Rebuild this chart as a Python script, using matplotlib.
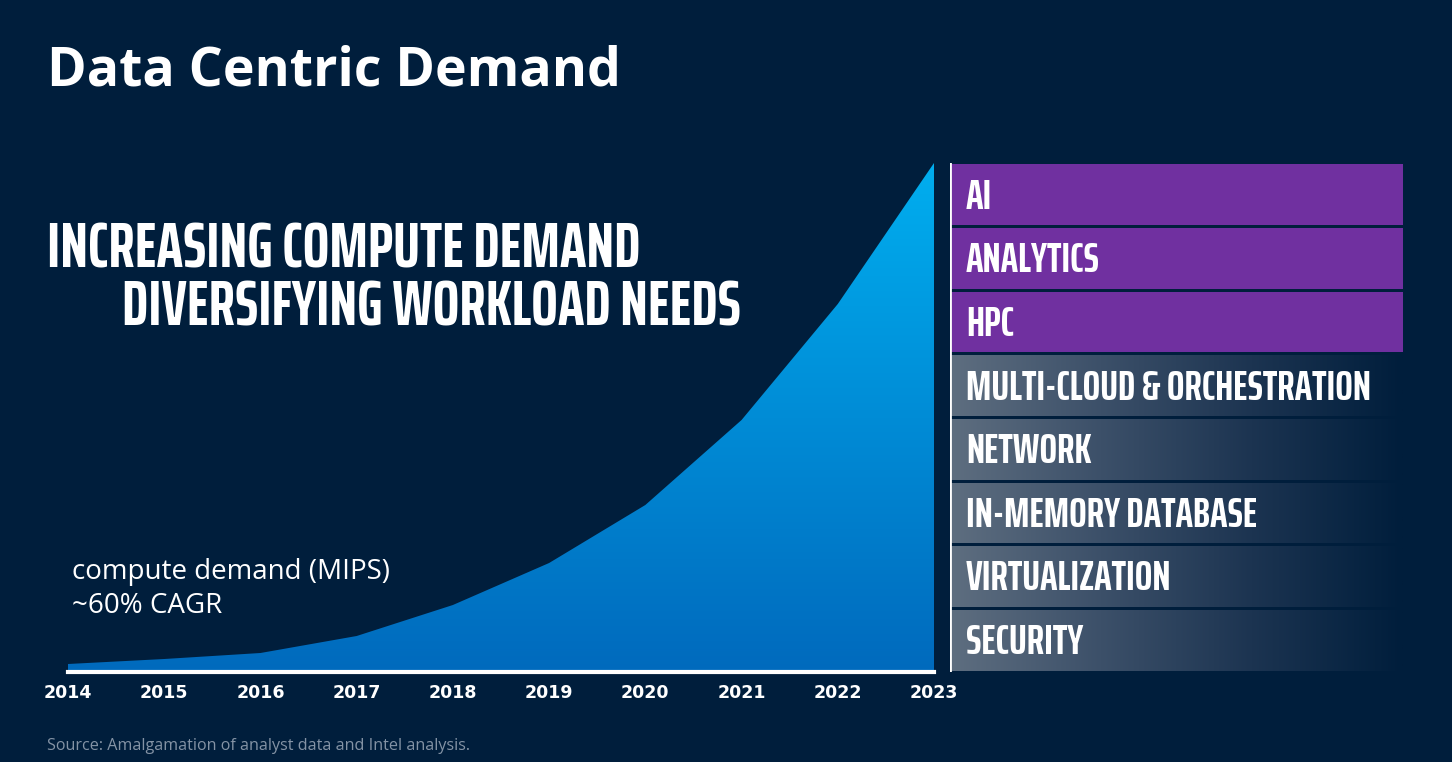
import os
import numpy as np
import matplotlib
matplotlib.use('Agg')
import matplotlib.pyplot as plt
from matplotlib import font_manager
from matplotlib.colors import LinearSegmentedColormap

# chart data (relative compute demand)
years = [2014, 2015, 2016, 2017, 2018, 2019, 2020, 2021, 2022, 2023]
demand = [8, 13, 19, 36, 67, 109, 167, 252, 368, 509]

workloads = ['AI', 'ANALYTICS', 'HPC', 'MULTI-CLOUD & ORCHESTRATION', 'NETWORK',
             'IN-MEMORY DATABASE', 'VIRTUALIZATION', 'SECURITY']
highlighted = ['AI', 'ANALYTICS', 'HPC']

W, H = 1452, 762
BG = '#001E3C'


def px(x0, y0, x1, y1):
    # pixel box (top-left origin) -> figure fraction
    return [x0 / W, 1 - y1 / H, (x1 - x0) / W, (y1 - y0) / H]


def find_font(patterns):
    files = {os.path.splitext(os.path.basename(f.fname))[0]: f.fname
             for f in font_manager.fontManager.ttflist}
    for pat in patterns:
        if pat in files:
            return files[pat]
    return None


cond_file = find_font(['SairaExtraCondensed-Bold', 'BebasNeue-Regular',
                       'BarlowCondensed-Bold', 'FiraSansExtraCondensed-Bold'])
if cond_file:
    cond = font_manager.FontProperties(fname=cond_file)
else:
    cond = font_manager.FontProperties(family='DejaVu Sans', weight='bold')

fig = plt.figure(figsize=(W / 100, H / 100), dpi=100, facecolor=BG)
fig.canvas.draw()
renderer = fig.canvas.get_renderer()


def fit_size(s, fp, target_px, base=40):
    t = fig.text(0, 0, s, fontproperties=fp, fontsize=base)
    w = t.get_window_extent(renderer).width
    t.remove()
    return base * target_px / w


# ---- area chart ----
ax = fig.add_axes(px(68, 163, 934, 672))
ax.set_facecolor('none')
poly = ax.fill_between(years, 0, demand, facecolor='none', edgecolor='none')
grad = np.linspace(0, 1, 256).reshape(-1, 1)
cmap = LinearSegmentedColormap.from_list('blues', ['#006ABD', '#00AEEF'])
im = ax.imshow(grad, extent=[years[0], years[-1], 0, max(demand)], origin='lower',
               aspect='auto', cmap=cmap, interpolation='bilinear')
im.set_clip_path(poly.get_paths()[0], ax.transData)
ax.set_xlim(years[0], years[-1])
ax.set_ylim(0, max(demand))
ax.axhline(0, color='white', lw=3, clip_on=False)
for s in ax.spines.values():
    s.set_visible(False)
ax.set_yticks([])
ax.set_xticks(years)
ax.set_xticklabels([str(y) for y in years], color='white', fontsize=12.5,
                   family='DejaVu Sans', weight='bold')
ax.tick_params(axis='x', length=0, pad=9)

# ---- workload panel ----
ax2 = fig.add_axes(px(950, 163, 1403, 672))
ax2.set_facecolor('none')
ax2.axis('off')
gray = LinearSegmentedColormap.from_list('gray', ['#5E6E80', '#3C5069', '#1C3451', BG])
hgrad = np.linspace(0, 1, 256).reshape(1, -1)
label_size = fit_size('MULTI-CLOUD & ORCHESTRATION', cond, 405)
for i, name in enumerate(workloads):
    if name in highlighted:
        ax2.barh(i, 1, height=0.955, left=0, color='#7030A0', edgecolor='none')
    else:
        bar = ax2.barh(i, 1, height=0.955, left=0, color='none', edgecolor='none')[0]
        g = ax2.imshow(hgrad, extent=[0, 1, i + 0.5, i - 0.5], aspect='auto',
                       cmap=gray, interpolation='bilinear')
        g.set_clip_path(bar)
    ax2.text(0.035, i + 0.03, name, va='center', ha='left', color='white',
             fontproperties=cond, fontsize=label_size)
ax2.axvline(0, color='white', lw=2)
ax2.set_xlim(0, 1)
ax2.set_ylim(len(workloads) - 0.5, -0.5)

# ---- texts ----
fig.text(47 / W, 1 - 85 / H, 'Data Centric Demand', color='white', fontsize=38.6,
         family='Open Sans', weight='bold', va='baseline')
head_size = fit_size('INCREASING COMPUTE DEMAND', cond, 592)
fig.text(47 / W, 1 - 268 / H, 'INCREASING COMPUTE DEMAND', color='white',
         fontproperties=cond, fontsize=head_size, va='baseline')
fig.text(122 / W, 1 - 325 / H, 'DIVERSIFYING WORKLOAD NEEDS', color='white',
         fontproperties=cond, fontsize=head_size, va='baseline')
fig.text(72 / W, 1 - 572 / H, 'compute demand (MIPS)', color='white',
         fontsize=20, family='Open Sans', va='center')
fig.text(72 / W, 1 - 606 / H, '~60% CAGR', color='white',
         fontsize=20, family='Open Sans', va='center')
fig.text(47 / W, 1 - 746 / H, 'Source: Amalgamation of analyst data and Intel analysis.',
         color='#8493A5', fontsize=11.6, family='Open Sans', va='center')

fig.savefig('out.png', dpi=100, facecolor=BG)
